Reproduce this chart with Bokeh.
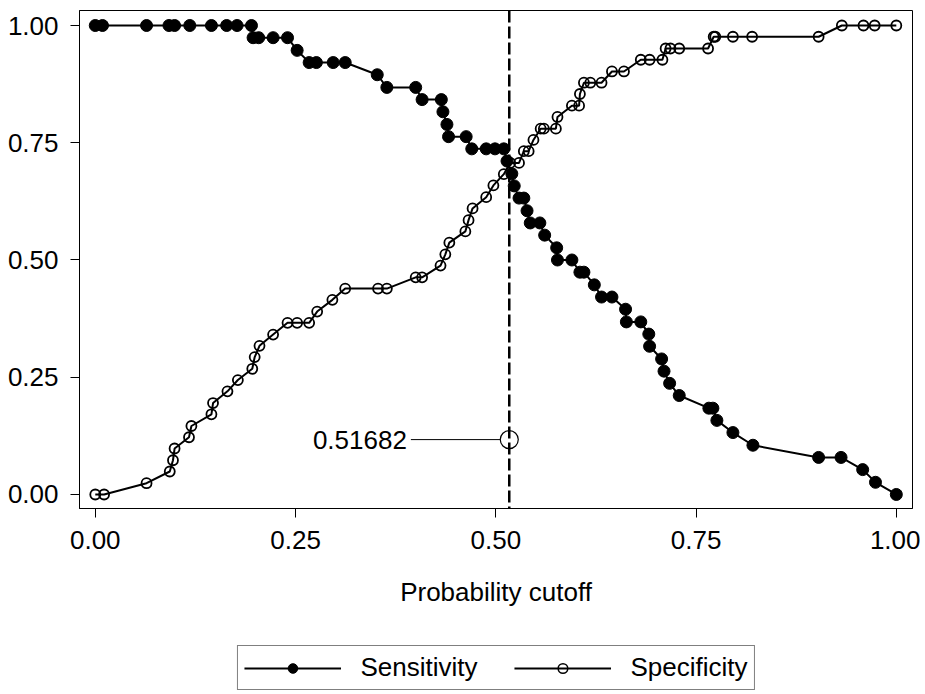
from bokeh.plotting import figure
from bokeh.layouts import column
from bokeh.models import Range1d, FixedTicker, NumeralTickFormatter, Span, Legend, LegendItem
from bokeh.embed import file_html
from bokeh.resources import INLINE
from bokeh.core.properties import value

# ---- data ----
sens_x = [0.000, 0.009, 0.064, 0.092, 0.099, 0.118, 0.145, 0.164, 0.177, 0.195,
          0.197, 0.204, 0.222, 0.240, 0.252, 0.267, 0.276, 0.297, 0.312, 0.352,
          0.364, 0.400, 0.408, 0.432, 0.434, 0.439, 0.441, 0.463, 0.470, 0.488,
          0.499, 0.510, 0.514, 0.520, 0.523, 0.529, 0.535, 0.539, 0.543, 0.555,
          0.561, 0.576, 0.577, 0.595, 0.605, 0.610, 0.623, 0.632, 0.645, 0.662,
          0.663, 0.681, 0.691, 0.692, 0.707, 0.710, 0.717, 0.729, 0.766, 0.771,
          0.776, 0.796, 0.821, 0.903, 0.931, 0.958, 0.974, 1.000]
sens_y = [1.000, 1.000, 1.000, 1.000, 1.000, 1.000, 1.000, 1.000, 1.000, 1.000,
          0.974, 0.974, 0.974, 0.974, 0.947, 0.921, 0.921, 0.921, 0.921, 0.895,
          0.868, 0.868, 0.842, 0.842, 0.816, 0.789, 0.763, 0.763, 0.737, 0.737,
          0.737, 0.737, 0.711, 0.684, 0.658, 0.632, 0.632, 0.605, 0.579, 0.579,
          0.553, 0.526, 0.500, 0.500, 0.474, 0.474, 0.447, 0.421, 0.421, 0.395,
          0.368, 0.368, 0.342, 0.316, 0.289, 0.263, 0.237, 0.211, 0.184, 0.184,
          0.158, 0.132, 0.105, 0.079, 0.079, 0.053, 0.026, 0.000]

spec_x = [0.000, 0.011, 0.064, 0.093, 0.097, 0.099, 0.117, 0.120, 0.145, 0.147,
          0.165, 0.178, 0.196, 0.199, 0.205, 0.222, 0.240, 0.252, 0.267, 0.277,
          0.296, 0.312, 0.353, 0.364, 0.400, 0.408, 0.431, 0.437, 0.442, 0.462,
          0.466, 0.471, 0.488, 0.497, 0.510, 0.518, 0.529, 0.535, 0.541, 0.547,
          0.556, 0.560, 0.575, 0.577, 0.595, 0.604, 0.605, 0.610, 0.618, 0.632,
          0.645, 0.660, 0.681, 0.692, 0.708, 0.712, 0.718, 0.729, 0.765, 0.772,
          0.774, 0.796, 0.820, 0.903, 0.932, 0.959, 0.973, 1.000]
spec_y = [0.000, 0.000, 0.024, 0.049, 0.073, 0.098, 0.122, 0.146, 0.171, 0.195,
          0.220, 0.244, 0.268, 0.293, 0.317, 0.341, 0.366, 0.366, 0.366, 0.390,
          0.415, 0.439, 0.439, 0.439, 0.463, 0.463, 0.488, 0.512, 0.537, 0.561,
          0.585, 0.610, 0.634, 0.659, 0.683, 0.707, 0.707, 0.732, 0.732, 0.756,
          0.780, 0.780, 0.780, 0.805, 0.829, 0.829, 0.854, 0.878, 0.878, 0.878,
          0.902, 0.902, 0.927, 0.927, 0.927, 0.951, 0.951, 0.951, 0.951, 0.976,
          0.976, 0.976, 0.976, 0.976, 1.000, 1.000, 1.000, 1.000]

cutoff = 0.51682
cutoff_text = "0.51682"
cutoff_mark_y = 0.117
cutoff_text_x = 0.389

y_ticks = [0.0, 0.25, 0.5, 0.75, 1.0]
x_ticks = [0.0, 0.25, 0.5, 0.75, 1.0]
series_names = ["Sensitivity", "Specificity"]

FONT = "Liberation Sans"
FS = "26px"
LINE_W = 2

p = figure(width=920, height=628, output_backend="svg", toolbar_location=None,
           x_range=Range1d(-0.0197, 1.0202), y_range=Range1d(-0.0299, 1.032),
           min_border_left=79, min_border_right=8, min_border_top=10, min_border_bottom=120)
p.background_fill_color = "white"
p.border_fill_color = "white"
p.outline_line_color = "black"
p.outline_line_width = 1
p.xgrid.visible = False
p.ygrid.visible = False

for ax in (p.xaxis[0], p.yaxis[0]):
    ax.major_label_text_font = FONT
    ax.major_label_text_font_size = FS
    ax.major_label_text_color = "black"
    ax.axis_line_color = "black"
    ax.major_tick_line_color = "black"
    ax.major_tick_out = 9
    ax.major_tick_in = 0
    ax.minor_tick_line_color = None
    ax.formatter = NumeralTickFormatter(format="0.00")

p.xaxis[0].ticker = FixedTicker(ticks=x_ticks)
p.yaxis[0].ticker = FixedTicker(ticks=y_ticks)
p.yaxis[0].major_label_standoff = 12
p.xaxis[0].major_label_standoff = 13
p.xaxis[0].axis_label = "Probability cutoff"
p.xaxis[0].axis_label_text_font = FONT
p.xaxis[0].axis_label_text_font_size = FS
p.xaxis[0].axis_label_text_font_style = "normal"
p.xaxis[0].axis_label_text_color = "black"
p.xaxis[0].axis_label_standoff = 25

p.line(sens_x, sens_y, line_color="black", line_width=LINE_W)
p.scatter(sens_x, sens_y, marker="circle", size=12, fill_color="black", line_color="black")
p.line(spec_x, spec_y, line_color="black", line_width=LINE_W)
p.scatter(spec_x, spec_y, marker="circle", size=10, fill_alpha=0, line_color="black", line_width=1.8)

p.add_layout(Span(location=cutoff, dimension="height", line_color="black",
                  line_width=2.5, line_dash="12 4"))

p.segment(x0=[cutoff_text_x + 0.005], y0=[cutoff_mark_y], x1=[cutoff], y1=[cutoff_mark_y],
          line_color="black", line_width=1)
p.scatter([cutoff], [cutoff_mark_y], marker="circle", size=18, fill_color="white",
          line_color="black", line_width=1.2)
p.text(x=[cutoff_text_x], y=[cutoff_mark_y], text=[cutoff_text], text_align="right",
       text_baseline="middle", text_font=value(FONT), text_font_size=FS, text_color="black")

# ---- legend strip below the chart (series drawn out of view; only the key shows) ----
lf = figure(width=920, height=66, output_backend="svg", toolbar_location=None,
            x_axis_type=None, y_axis_type=None, x_range=Range1d(0, 1), y_range=Range1d(5, 6),
            min_border_left=79, min_border_right=8, min_border_top=0, min_border_bottom=0)
lf.outline_line_color = None
lf.xgrid.visible = False
lf.ygrid.visible = False
ll1 = lf.line(sens_x, sens_y, line_color="black", line_width=LINE_W)
lm1 = lf.scatter(sens_x, sens_y, marker="circle", size=12, fill_color="black", line_color="black")
ll2 = lf.line(spec_x, spec_y, line_color="black", line_width=LINE_W)
lm2 = lf.scatter(spec_x, spec_y, marker="circle", size=7, fill_alpha=0, line_color="black", line_width=1.5)

legend = Legend(items=[LegendItem(label=series_names[0], renderers=[ll1, lm1]),
                       LegendItem(label=series_names[1], renderers=[ll2, lm2])],
                orientation="horizontal", location="top_center",
                label_text_font=FONT, label_text_font_size=FS, label_text_color="black",
                glyph_width=97, glyph_height=24, label_standoff=20, spacing=36,
                padding=6, margin=17, border_line_color="black", border_line_width=1,
                background_fill_alpha=1)
lf.add_layout(legend, "center")

layout = column(p, lf, spacing=0)
open("out.html", "w").write(file_html(layout, INLINE))
